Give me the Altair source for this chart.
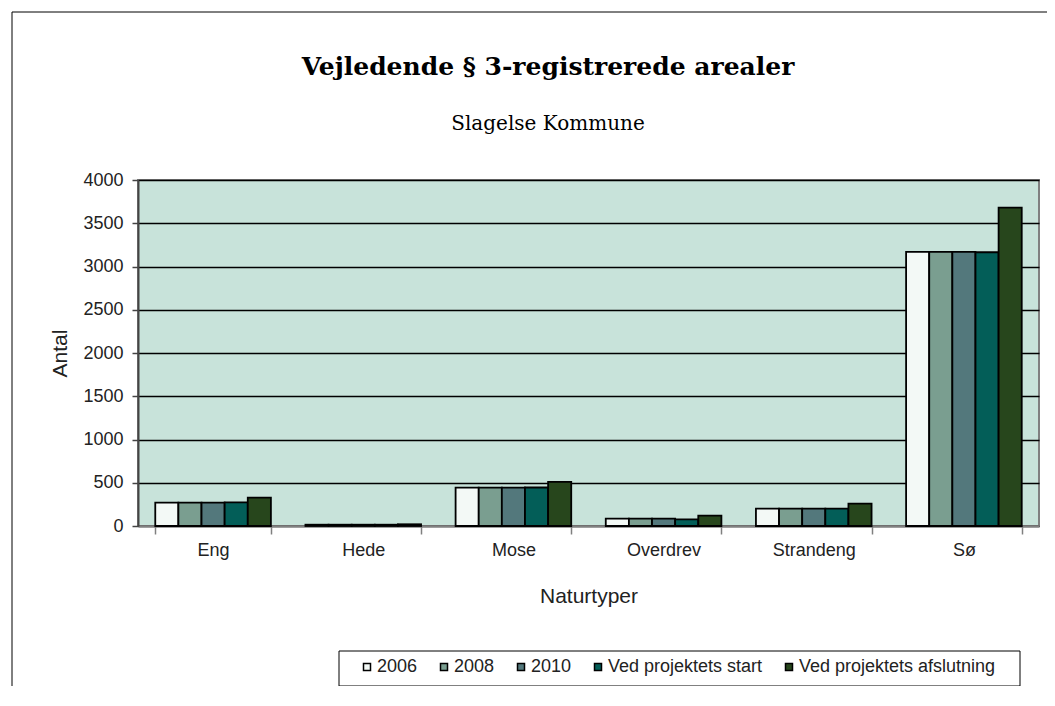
import altair as alt
import pandas as pd

categories = ["Eng", "Hede", "Mose", "Overdrev", "Strandeng", "Sø"]
series = ["2006", "2008", "2010", "Ved projektets start", "Ved projektets afslutning"]
colors = ["#F3F9F6", "#7A9E90", "#53787C", "#035E58", "#27461C"]

v2006 = [270, 15, 443, 85, 200, 3168]
v2008 = [270, 15, 443, 85, 200, 3168]
v2010 = [270, 15, 443, 85, 200, 3168]
vstart = [272, 15, 445, 77, 200, 3165]
vslut = [327, 20, 509, 119, 258, 3680]

title_text = "Vejledende § 3-registrerede arealer"
subtitle_text = "Slagelse Kommune"

rows = []
for s, vals in zip(series, [v2006, v2008, v2010, vstart, vslut]):
    for c, v in zip(categories, vals):
        rows.append({"Naturtype": c, "Serie": s, "Antal": v})
df = pd.DataFrame(rows)

W, H = 901, 346

bars = alt.Chart(df).mark_bar(stroke="black", strokeWidth=1.8).encode(
    x=alt.X("Naturtype:N", sort=categories,
            scale=alt.Scale(paddingInner=0.23, paddingOuter=0.115),
            axis=alt.Axis(title="Naturtyper", labelAngle=0, labelFont="Liberation Sans",
                          labelFontSize=18, labelColor="#222", labelPadding=7,
                          titleFont="Liberation Sans", titleFontSize=21, titleFontWeight="normal",
                          titleColor="#222", titlePadding=26,
                          tickBand="extent", tickColor="#808080", tickSize=8, tickWidth=1.5,
                          domainColor="#808080", domainWidth=2)),
    xOffset=alt.XOffset("Serie:N", sort=series, scale=alt.Scale(paddingInner=0, paddingOuter=0)),
    y=alt.Y("Antal:Q", scale=alt.Scale(domain=[0, 4000], nice=False),
            axis=alt.Axis(title="Antal", values=list(range(0, 4001, 500)), format="d",
                          labelFont="Liberation Sans", labelFontSize=18, labelColor="#222",
                          labelPadding=9,
                          titleFont="Liberation Sans", titleFontSize=21, titleFontWeight="normal",
                          titleColor="#222", titlePadding=12,
                          grid=True, gridColor="black", gridWidth=1.4,
                          tickColor="#444", tickSize=6, tickWidth=1.5,
                          domainColor="#444", domainWidth=2)),
    color=alt.Color("Serie:N", sort=series, scale=alt.Scale(domain=series, range=colors),
                    legend=alt.Legend(title=None, orient="none", direction="horizontal",
                                      legendX=216, legendY=474,
                                      symbolType="square", symbolSize=49,
                                      symbolStrokeColor="black", symbolStrokeWidth=1.5,
                                      symbolOpacity=1,
                                      labelFont="Liberation Sans", labelFontSize=18,
                                      labelColor="#222", labelOffset=1, labelLimit=400,
                                      columnPadding=17, padding=4,
                                      offset=0)),
)

legend_box = alt.Chart(pd.DataFrame({"a": [0]})).mark_rect(
    fill="white", stroke="black", strokeWidth=1
).encode(x=alt.value(201), x2=alt.value(882), y=alt.value(471), y2=alt.value(506))

title = alt.Chart(pd.DataFrame({"t": [title_text]})).mark_text(
    font="DejaVu Serif", fontSize=25, fontWeight="bold", color="black", align="center", baseline="middle"
).encode(text="t:N", x=alt.value(410), y=alt.value(-113))

subtitle = alt.Chart(pd.DataFrame({"t": [subtitle_text]})).mark_text(
    font="DejaVu Serif", fontSize=20, color="black", align="center", baseline="middle"
).encode(text="t:N", x=alt.value(410), y=alt.value(-56))

border = alt.Chart(pd.DataFrame({"a": [0]})).mark_rule(color="black", strokeWidth=1).encode(
    x=alt.value(-126), x2=alt.value(920), y=alt.value(-168)
)
border_left = alt.Chart(pd.DataFrame({"a": [0]})).mark_rule(color="black", strokeWidth=1).encode(
    x=alt.value(-126), y=alt.value(-168), y2=alt.value(520)
)

chart = alt.layer(border, border_left, legend_box, bars, title, subtitle).properties(
    width=W, height=H,
    autosize=alt.AutoSizeParams(type="none"),
    padding={"left": 130, "top": 172, "right": 8, "bottom": 160},
).configure_view(fill="#C8E3DA", stroke="#808080", strokeWidth=2)

chart.save("out.html", embed_options={"renderer": "svg", "actions": False})
